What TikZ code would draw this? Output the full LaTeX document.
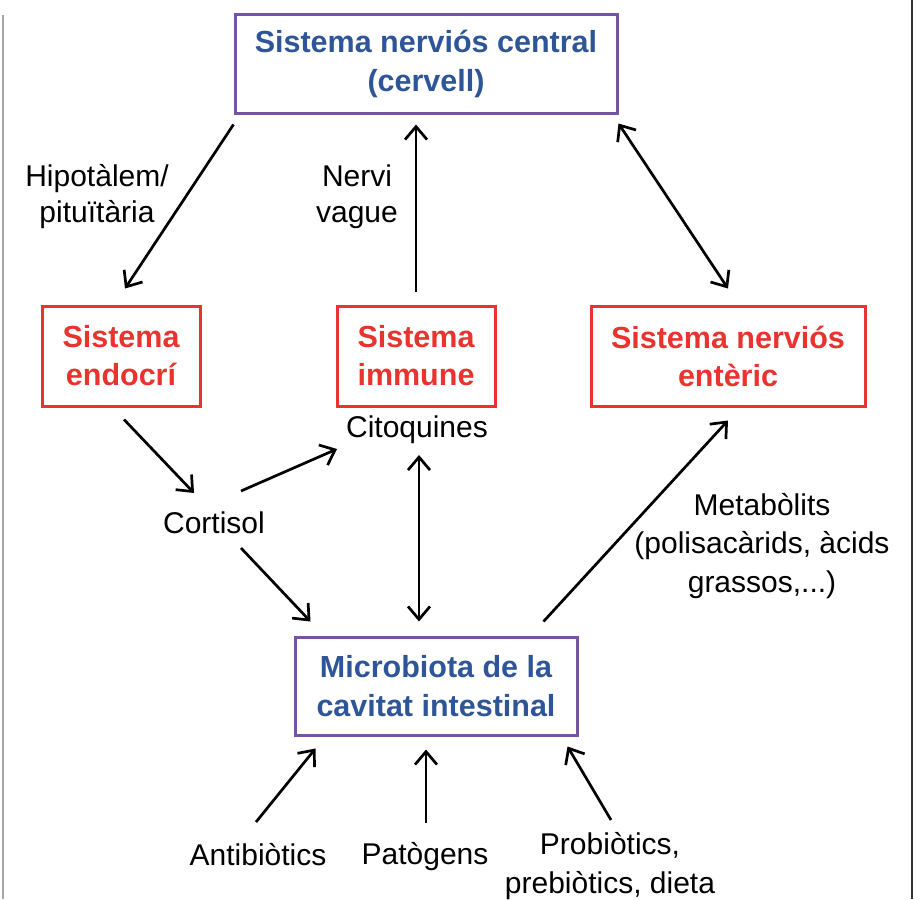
\documentclass[tikz,border=0pt]{standalone}
\usepackage{fontspec}
\setmainfont{Liberation Sans}
\usetikzlibrary{arrows.meta,calc}
\definecolor{boxblue}{RGB}{46,85,151}
\definecolor{boxpurple}{RGB}{118,84,164}
\definecolor{boxred}{RGB}{232,51,46}
\begin{document}
\begin{tikzpicture}[x=1pt,y=-1pt,
  bluebox/.style={draw=boxpurple, line width=3pt, text=boxblue, font=\fontsize{30.5}{39}\selectfont\bfseries, align=center, inner sep=0pt},
  redbox/.style={draw=boxred, line width=3pt, text=boxred, font=\fontsize{30.5}{38}\selectfont\bfseries, align=center, inner sep=0pt},
  lbl/.style={font=\fontsize{30}{36}\selectfont, align=center, inner sep=0pt},
  lblb/.style={font=\fontsize{30}{38.5}\selectfont, align=center, inner sep=0pt},
  arr/.style={line width=2.7pt, -{Straight Barb[length=13pt,width=22pt]}},
  darr/.style={line width=2.7pt, {Straight Barb[length=13pt,width=22pt]}-{Straight Barb[length=13pt,width=22pt]}}]
\useasboundingbox (0,0) rectangle (920,899);
\draw[line width=1.8pt, gray!70] (3,15) -- (3,899);
\draw[line width=1.8pt, black!80] (912,0) -- (912,899);

\node[bluebox, minimum width=382pt, minimum height=98pt] (top) at (426,64) {Sistema nerviós central\\(cervell)};
\node[redbox, minimum width=158pt, minimum height=100pt] (endo) at (121,356) {Sistema\\endocrí};
\node[redbox, minimum width=158pt, minimum height=100pt] (imm) at (416,356) {Sistema\\immune};
\node[redbox, minimum width=274pt, minimum height=100pt] (ent) at (728,356) {Sistema nerviós\\entèric};
\node[bluebox, minimum width=282pt, minimum height=98pt] (micro) at (436,686) {Microbiota de la\\cavitat intestinal};

\node[lbl] (hip) at (97,197) {Hipotàlem/\\pituïtària};
\node[lbl] (nervi) at (357,197) {Nervi\\vague};
\node[lbl] (cito) at (417,430) {Citoquines};
\node[lbl] (cort) at (214,523) {Cortisol};
\node[lblb] (meta) at (762,546) {Metabòlits\\(polisacàrids, àcids\\grassos,...)};
\node[lbl] (anti) at (258,855) {Antibiòtics};
\node[lbl] (pato) at (425,857) {Patògens};
\node[lblb] (prob) at (610,866) {Probiòtics,\\prebiòtics, dieta};

\draw[arr] ($(top.south west)+(0,10)$) -- ($(endo.north)+(4,-16)$);
\draw[arr] ($(imm.north)+(0,-13)$) -- ($(imm.north |- top.south)+(0,10)$);
\draw[darr] ($(top.south east)+(0,9)$) -- ($(ent.north)+(0,-16)$);
\draw[arr] ($(endo.south)+(3,12)$) -- ($(cort.center)+(-20,-30)$);
\draw[arr] ($(cort.center)+(27,-32)$) -- ($(cito.center)+(-80,19)$);
\draw[arr] ($(cort.center)+(27,25)$) -- ($(micro.north west)+(17,-14)$);
\draw[darr] ($(cito.center)+(2,25)$) -- ($(micro.north)+(-17,-14)$);
\draw[arr] ($(micro.north east)+(-35,-14)$) -- ($(ent.south)+(0,13)$);
\draw[arr] ($(anti.center)+(-2,-33)$) -- ($(micro.south west)+(22,12)$);
\draw[arr] ($(pato.center)+(1,-34)$) -- ($(micro.south)+(-10,13)$);
\draw[arr] ($(prob.center)+(1,-46)$) -- ($(micro.south east)+(-11,10)$);
\end{tikzpicture}
\end{document}
